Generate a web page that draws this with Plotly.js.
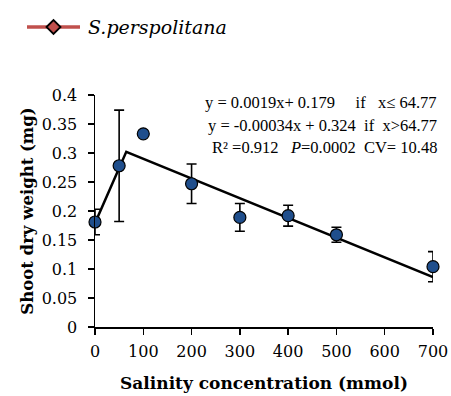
<!DOCTYPE html>
<html><head><meta charset="utf-8">
<script src="https://cdn.plot.ly/plotly-3.0.1.min.js"></script>
<style>body{margin:0;background:#fff}#c{width:451px;height:396px}</style>
</head><body><div id="c"></div>
<script>
const salinity = [0, 50, 100, 200, 300, 400, 500, 700];
const shootWeight = [0.181, 0.278, 0.333, 0.247, 0.189, 0.192, 0.159, 0.104];
const errorSD = [0.022, 0.096, 0, 0.034, 0.024, 0.018, 0.013, 0.026];
const fitX = [0, 64.77, 700];
const fitY = [0.179, 0.302, 0.086];
const seriesName = 'S.perspolitana';
const eqLines = [
  'y = 0.0019x+ 0.179\u00a0\u00a0\u00a0\u00a0 if\u00a0\u00a0 x\u2264 64.77',
  'y = -0.00034x + 0.324\u00a0 if\u00a0 x>64.77',
  'R\u00b2 =0.912\u00a0\u00a0 <i>P</i>=0.0002\u00a0 CV= 10.48'
];
const xTicks = [0, 100, 200, 300, 400, 500, 600, 700];
const yTicks = [0, 0.05, 0.1, 0.15, 0.2, 0.25, 0.3, 0.35, 0.4];
const yTickText = ['0','0.05','0.1','0.15','0.2','0.25','0.3','0.35','0.4'];

const times = "'Liberation Serif', serif";
const book = "'DejaVu Serif', serif";
const traces = [
  {x: fitX, y: fitY, mode: 'lines', line: {color: '#000', width: 2.5}, showlegend: false, hoverinfo: 'skip'},
  {x: salinity, y: shootWeight, mode: 'markers', showlegend: false, cliponaxis: false,
   marker: {symbol: 'circle', size: 12, color: '#1F4E8C', line: {color: '#000', width: 1.2}},
   error_y: {type: 'data', array: errorSD, visible: true, color: '#000', thickness: 1.6, width: 5}}
];
// plot area: left 95, right 433, top 95, bottom 327
const px = v => (v - 95) / 338;
const py = v => (327 - v) / 232;
const layout = {
  width: 451, height: 396,
  margin: {l: 95, r: 18, t: 95, b: 69},
  paper_bgcolor: '#fff', plot_bgcolor: '#fff',
  font: {family: book, color: '#000', size: 16},
  showlegend: false,
  xaxis: {range: [0, 700], tickvals: xTicks, ticks: 'outside', ticklen: 6, tickwidth: 1.5, tickcolor: '#000',
          ticklabelstandoff: 3,
          showline: true, linecolor: '#000', linewidth: 1.5, showgrid: false, zeroline: false,
          tickfont: {family: book, size: 16},
          title: {text: '<b>Salinity concentration (mmol)</b>', font: {family: book, size: 17}, standoff: 17}},
  yaxis: {range: [0, 0.4], tickvals: yTicks, ticktext: yTickText,
          ticks: 'outside', ticklen: 6, tickwidth: 1.5, tickcolor: '#000',
          ticklabelstandoff: 7,
          showline: true, linecolor: '#000', linewidth: 1.5, showgrid: false, zeroline: false,
          tickfont: {family: book, size: 16},
          title: {text: '<b>Shoot dry weight (mg)</b>', font: {family: book, size: 16.5}, standoff: 4}},
  shapes: [
    {type: 'line', xref: 'paper', yref: 'paper', x0: px(27), x1: px(80), y0: py(27), y1: py(27),
     line: {color: '#C0504D', width: 3.5}},
    {type: 'path', xref: 'paper', yref: 'paper', xsizemode: 'pixel', ysizemode: 'pixel',
     xanchor: px(53.5), yanchor: py(27), path: 'M -7 0 L 0 7 L 7 0 L 0 -7 Z',
     fillcolor: '#C0504D', line: {color: '#000', width: 1.8}}
  ],
  annotations: [
    {text: '<i>' + seriesName + '</i>', xref: 'paper', yref: 'paper', x: px(86), y: py(27),
     xanchor: 'left', yanchor: 'middle', showarrow: false, font: {family: book, size: 19}},
    ...eqLines.map((t, i) => ({
      text: t, xref: 'paper', yref: 'paper', x: px(439), y: py([102, 125, 147][i]),
      xanchor: 'right', yanchor: 'middle', showarrow: false, font: {family: times, size: 16.5}
    }))
  ]
};
Plotly.newPlot('c', traces, layout, {displayModeBar: false, staticPlot: true});
</script></body></html>
